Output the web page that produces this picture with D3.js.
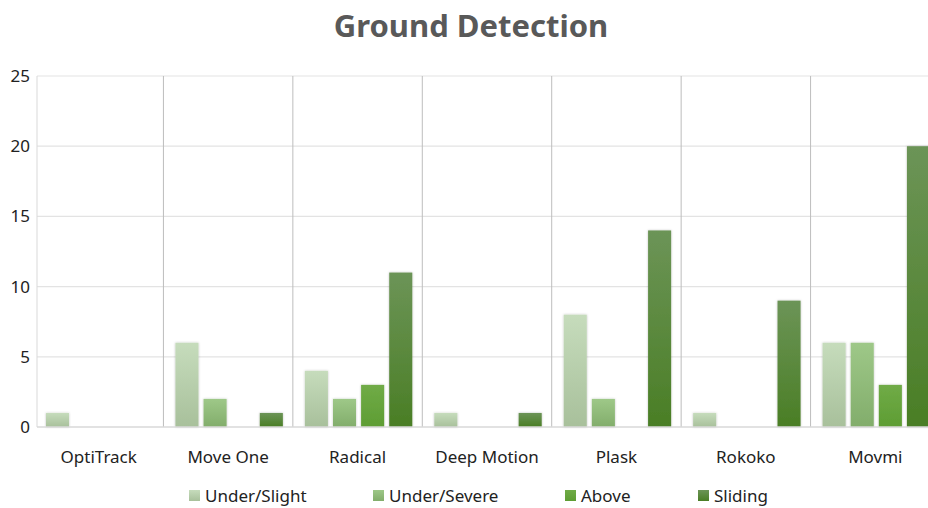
<!DOCTYPE html>
<html>
<head>
<meta charset="utf-8">
<script src="https://cdn.jsdelivr.net/npm/d3@7"></script>
<style>
  body { margin: 0; background: #fff; }
  text { font-family: "Noto Sans", "Open Sans", sans-serif; }
</style>
</head>
<body>
<div id="chart"></div>
<script>
// data
var categories = ["OptiTrack", "Move One", "Radical", "Deep Motion", "Plask", "Rokoko", "Movmi"];
var seriesNames = ["Under/Slight", "Under/Severe", "Above", "Sliding"];
var underSlight = [1, 6, 4, 1, 8, 1, 6];
var underSevere = [0, 2, 2, 0, 2, 0, 6];
var above = [0, 0, 3, 0, 0, 0, 3];
var sliding = [0, 1, 11, 1, 14, 9, 20];
var yTicks = [0, 5, 10, 15, 20, 25];
var topColors = ["#c6dcbc", "#9ec888", "#70ab47", "#6c9457"];
var bottomColors = ["#a8c09b", "#82ad6b", "#5e9d33", "#4a7e25"];

var seriesValues = [underSlight, underSevere, above, sliding];

var margin = { top: 76, right: -12, bottom: 81, left: 34 },
  width = 928 - margin.left - margin.right,
  height = 508 - margin.top - margin.bottom;

var svg = d3.select("#chart")
  .append("svg")
  .attr("width", 928)
  .attr("height", 508);

// gradients + shadow
var defs = svg.append("defs");
seriesNames.forEach(function (s, i) {
  var g = defs.append("linearGradient")
    .attr("id", "grad" + i)
    .attr("x1", 0).attr("y1", 0).attr("x2", 0).attr("y2", 1);
  g.append("stop").attr("offset", "0%").attr("stop-color", topColors[i]);
  g.append("stop").attr("offset", "100%").attr("stop-color", bottomColors[i]);
});
var shadow = defs.append("filter").attr("id", "shadow")
  .attr("x", "-30%").attr("y", "-10%").attr("width", "160%").attr("height", "120%");
shadow.append("feDropShadow")
  .attr("dx", 0).attr("dy", 0).attr("stdDeviation", 1.2)
  .attr("flood-color", "#000").attr("flood-opacity", 0.25);

// title
svg.append("text")
  .attr("x", 471)
  .attr("y", 37)
  .attr("text-anchor", "middle")
  .style("font-size", "31px")
  .style("font-weight", "bold")
  .style("fill", "#595959")
  .text("Ground Detection");

var chart = svg.append("g")
  .attr("transform", "translate(" + margin.left + "," + margin.top + ")");

var x = d3.scaleBand()
  .domain(categories)
  .range([0, width]);

var xInner = d3.scaleBand()
  .domain(seriesNames)
  .range([12, x.bandwidth() - 10])
  .paddingInner(0.18);

var y = d3.scaleLinear()
  .domain([0, 25])
  .range([height, 0]);

// horizontal gridlines
chart.append("g")
  .selectAll("line")
  .data(yTicks.slice(1))
  .enter().append("line")
  .attr("x1", 3).attr("x2", width)
  .attr("y1", function (d) { return y(d); })
  .attr("y2", function (d) { return y(d); })
  .attr("stroke", "#e3e3e3")
  .attr("stroke-width", 1.2);

// vertical separators
chart.append("g")
  .selectAll("line")
  .data(categories)
  .enter().append("line")
  .attr("x1", function (d, i) { return i === 0 ? x(d) + 3 : x(d); })
  .attr("x2", function (d, i) { return i === 0 ? x(d) + 3 : x(d); })
  .attr("y1", y(25)).attr("y2", y(0))
  .attr("stroke", function (d, i) { return i === 0 ? "#d9d9d9" : "#bdbdbd"; })
  .attr("stroke-width", 1);

// bars
var groups = chart.append("g")
  .selectAll("g")
  .data(categories)
  .enter().append("g")
  .attr("transform", function (d) { return "translate(" + x(d) + ",0)"; });

groups.selectAll("rect")
  .data(function (d, ci) {
    return seriesNames.map(function (s, si) {
      return { key: s, idx: si, value: seriesValues[si][ci] };
    });
  })
  .enter().append("rect")
  .filter(function (d) { return d.value > 0; })
  .attr("x", function (d) { return xInner(d.key); })
  .attr("width", xInner.bandwidth())
  .attr("y", function (d) { return y(d.value); })
  .attr("height", function (d) { return y(0) - y(d.value); })
  .attr("fill", function (d) { return "url(#grad" + d.idx + ")"; })
  .attr("filter", "url(#shadow)");

// baseline
chart.append("line")
  .attr("x1", 3).attr("x2", width)
  .attr("y1", y(0)).attr("y2", y(0))
  .attr("stroke", "#d9d9d9")
  .attr("stroke-width", 1.5);

// y labels
chart.append("g")
  .selectAll("text")
  .data(yTicks)
  .enter().append("text")
  .attr("x", -4)
  .attr("y", function (d) { return y(d); })
  .attr("dy", "0.35em")
  .attr("text-anchor", "end")
  .style("font-size", "17px")
  .style("fill", "#222")
  .text(function (d) { return d; });

// x labels
chart.append("g")
  .selectAll("text")
  .data(categories)
  .enter().append("text")
  .attr("x", function (d) { return x(d) + x.bandwidth() / 2; })
  .attr("y", height + 36)
  .attr("text-anchor", "middle")
  .style("font-size", "17px")
  .style("fill", "#222")
  .text(function (d) { return d; });

// legend
var legendX = [189, 373, 565, 698];
var legend = svg.append("g")
  .selectAll("g")
  .data(seriesNames)
  .enter().append("g")
  .attr("transform", function (d, i) { return "translate(" + legendX[i] + ",490)"; });
legend.append("rect")
  .attr("width", 11).attr("height", 11)
  .attr("fill", function (d, i) { return "url(#grad" + i + ")"; });
legend.append("text")
  .attr("x", 16)
  .attr("y", 6)
  .attr("dy", "0.35em")
  .style("font-size", "17px")
  .style("fill", "#222")
  .text(function (d) { return d; });
</script>
</body>
</html>
